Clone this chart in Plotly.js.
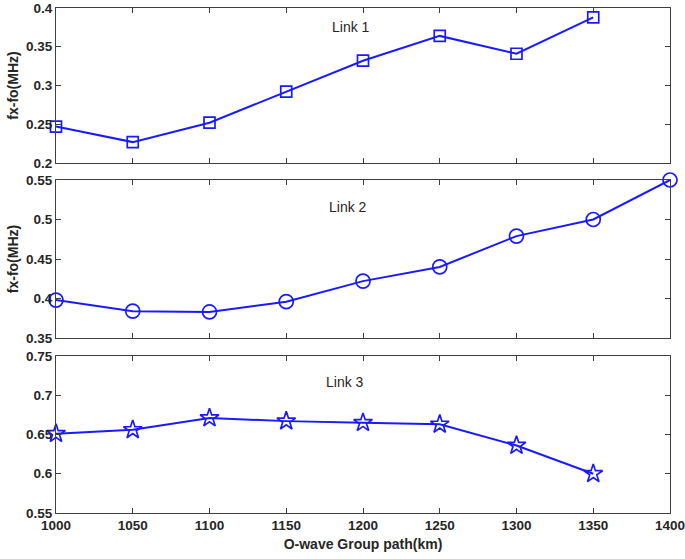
<!DOCTYPE html>
<html><head><meta charset="utf-8">
<script src="https://cdn.plot.ly/plotly-3.0.1.min.js"></script>
<style>body{margin:0;padding:0;background:#fff}</style>
</head><body>
<div id="chart" style="width:685px;height:559px"></div>
<script>
const xLink1 = [1000, 1050, 1100, 1150, 1200, 1250, 1300, 1350];
const yLink1 = [0.247, 0.227, 0.252, 0.292, 0.332, 0.364, 0.341, 0.388];
const xLink2 = [1000, 1050, 1100, 1150, 1200, 1250, 1300, 1350, 1400];
const yLink2 = [0.398, 0.384, 0.383, 0.396, 0.422, 0.440, 0.479, 0.500, 0.550];
const xLink3 = [1000, 1050, 1100, 1150, 1200, 1250, 1300, 1350];
const yLink3 = [0.651, 0.656, 0.671, 0.667, 0.665, 0.663, 0.636, 0.600];
const xTicks = [1000, 1050, 1100, 1150, 1200, 1250, 1300, 1350, 1400];

const blue = '#1a1aff';
function tr(x, y, sym, size, xa, ya) {
  return {x: x, y: y, xaxis: xa, yaxis: ya, type: 'scatter', mode: 'lines+markers', cliponaxis: false,
    line: {color: blue, width: 2},
    marker: {symbol: sym, size: size, color: blue, line: {color: blue, width: 1.7}},
    showlegend: false, hoverinfo: 'x+y'};
}
const data = [
  tr(xLink1, yLink1, 'square-open', 11, 'x', 'y'),
  tr(xLink2, yLink2, 'circle-open', 14, 'x2', 'y2'),
  tr(xLink3, yLink3, 'star-open', 14, 'x3', 'y3')
];
const fam = 'Liberation Sans, Arial, sans-serif';
const tf = {family: fam, size: 13.5, color: '#262626', weight: 'bold'};
function xa(anchor, labels) {
  return {range: [1000, 1400], tickvals: xTicks, ticks: 'inside', ticklen: 5, tickcolor: '#404040',
    showline: true, linecolor: '#404040', linewidth: 1, mirror: 'ticks', showgrid: false, zeroline: false,
    showticklabels: labels, tickfont: tf, anchor: anchor, ticklabeloverflow: 'allow'};
}
function ya(anchor, domain, range, title) {
  const o = {range: [range[0] - 0.00001, range[1] + 0.00001], dtick: 0.05, tick0: 0, ticks: 'inside', ticklen: 5, tickcolor: '#404040',
    showline: true, linecolor: '#404040', linewidth: 1, mirror: 'ticks', showgrid: false, zeroline: false,
    tickfont: tf, anchor: anchor, domain: domain, ticklabeloverflow: 'allow'};
  if (title) o.title = {text: title, font: {family: fam, size: 14, color: '#262626', weight: 'bold'}, standoff: 4};
  return o;
}
const lf = {family: fam, size: 14, color: '#262626'};
const layout = {
  width: 685, height: 559,
  margin: {l: 56, r: 15, t: 8, b: 46},
  paper_bgcolor: '#fff', plot_bgcolor: '#fff',
  xaxis: xa('y', false),
  xaxis2: xa('y2', false),
  xaxis3: Object.assign(xa('y3', true), {title: {text: 'O-wave Group path(km)', font: {family: fam, size: 14, color: '#262626', weight: 'bold'}, standoff: 6}}),
  yaxis: ya('x', [0.693, 1], [0.2, 0.4], 'fx-fo(MHz)'),
  yaxis2: ya('x2', [0.3465, 0.6594], [0.35, 0.55], 'fx-fo(MHz)'),
  yaxis3: ya('x3', [0, 0.311], [0.55, 0.75], null),
  annotations: [
    {text: 'Link 1', xref: 'x', yref: 'y', x: 1192, y: 0.375, showarrow: false, font: lf},
    {text: 'Link 2', xref: 'x2', yref: 'y2', x: 1190, y: 0.516, showarrow: false, font: lf},
    {text: 'Link 3', xref: 'x3', yref: 'y3', x: 1188, y: 0.717, showarrow: false, font: lf}
  ]
};
Plotly.newPlot('chart', data, layout, {displayModeBar: false, staticPlot: true});
</script>
</body></html>
